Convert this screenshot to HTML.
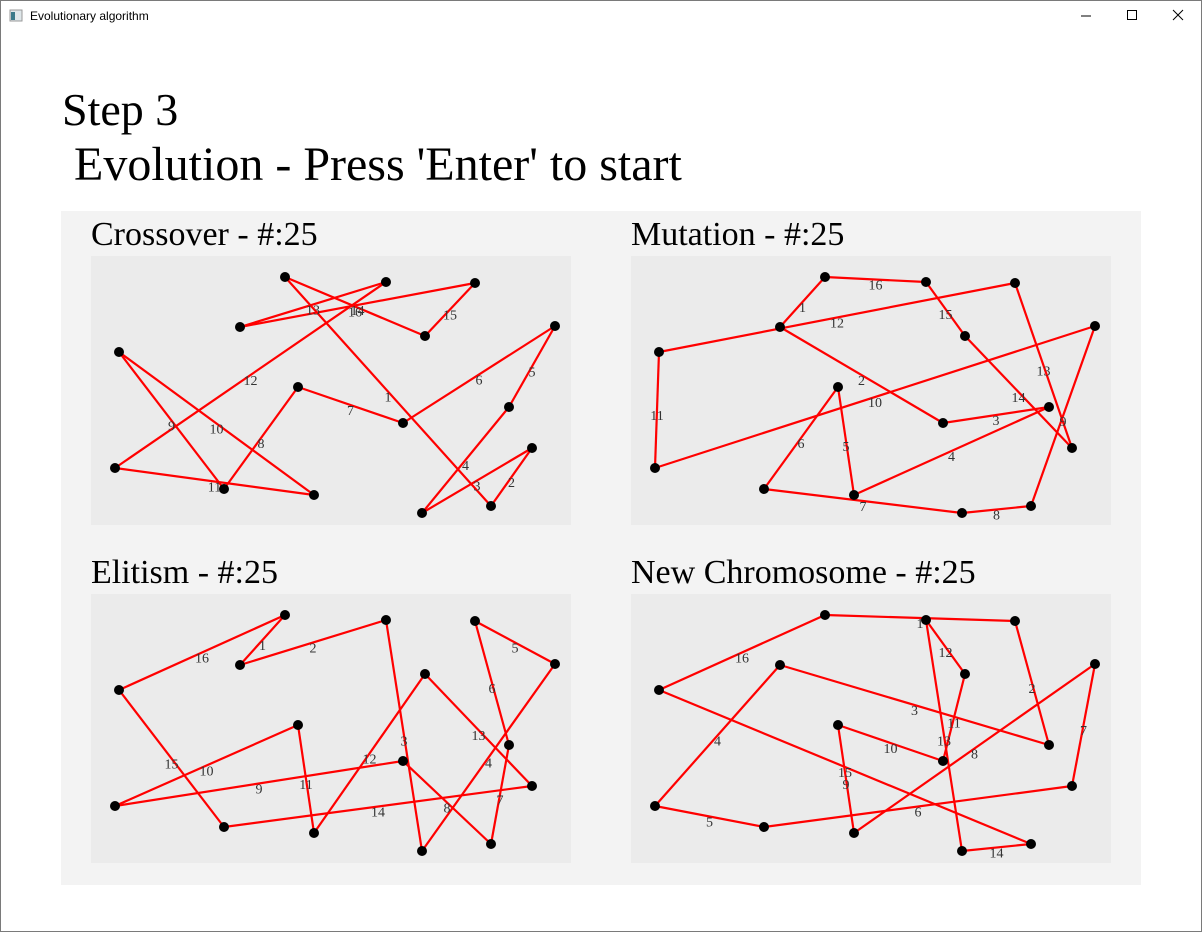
<!DOCTYPE html>
<html><head><meta charset="utf-8"><style>
html,body{margin:0;padding:0;width:1202px;height:932px;overflow:hidden;background:#fff;font-family:"Liberation Serif",serif}
#win{position:absolute;left:0;top:0;width:1200px;height:930px;border:1px solid #7a7a7a;background:#fff}
</style></head><body>
<div id="win"></div>
<svg id="svg" width="1202" height="932" style="position:absolute;left:0;top:0">
 <g>
  <rect x="10" y="10" width="12" height="11" fill="#dfe7ea" stroke="#999" stroke-width="1"/>
  <rect x="11" y="12" width="4" height="8" fill="#3b7a8a"/>
  <text x="30" y="20" font-family="Liberation Sans,sans-serif" font-size="12" fill="#000">Evolutionary algorithm</text>
  <line x1="1081" y1="16" x2="1091" y2="16" stroke="#000"/>
  <rect x="1127.5" y="10.5" width="9" height="9" fill="none" stroke="#000"/>
  <path d="M1173 10 L1183 20 M1183 10 L1173 20" stroke="#000"/>
 </g>
 <text x="62" y="125" font-size="46" fill="#000">Step 3</text>
 <text x="62" y="180" font-size="48" fill="#000" xml:space="preserve"> Evolution - Press 'Enter' to start</text>
 <rect x="61" y="211" width="1080" height="674" fill="#f3f3f3"/>
 <g id="panels"></g>
</svg>
<script>
const cityX = [194,295,384,149,334,464,28,207,418,312,24,133,223,441,331,400];
const cityY = [21,26,27,71,80,70,96,131,151,167,212,233,239,192,257,250];
const crossoverTour = [0,15,13,14,8,5,9,7,11,6,12,10,1,3,2,4];
const mutationTour = [0,3,9,8,12,7,11,14,15,5,10,6,2,13,4,1];
const elitismTour = [0,3,1,14,5,2,8,15,9,10,7,12,4,13,11,6];
const newChromosomeTour = [0,2,8,3,10,11,13,5,12,7,9,4,1,14,15,6];
const panelTitles = ["Crossover - #:25","Mutation - #:25","Elitism - #:25","New Chromosome - #:25"];
const panelNames = ["crossover","mutation","elitism","new-chromosome"];
const tours = [crossoverTour, mutationTour, elitismTour, newChromosomeTour];
const NS="http://www.w3.org/2000/svg";
const root=document.getElementById('panels');
function mk(tag,attrs,parent){const e=document.createElementNS(NS,tag);for(const k in attrs)e.setAttribute(k,attrs[k]);parent.appendChild(e);return e;}
const origins=[[91,256],[631,256],[91,594],[631,594]];
tours.forEach((tour,p)=>{
  const ox=origins[p][0], oy=origins[p][1];
  const sx=i=>ox+cityX[i], sy=i=>oy+cityY[i];
  const g=mk('g',{},root);
  
  
  const t=mk('text',{x:ox,y:oy-11,'font-size':34,fill:'#000'},g);
  t.textContent=panelTitles[p];
  
  
  const bg=mk('rect',{x:ox,y:oy,width:480,height:269,fill:'#ebebeb'},g);
  
  
  for(let k=0;k<tour.length;k++){
    const a=tour[k], b=tour[(k+1)%tour.length];
    const l=mk('line',{x1:sx(a),y1:sy(a),x2:sx(b),y2:sy(b),stroke:'#ff0000','stroke-width':2.2},g);
    
    
  }
  for(let k=0;k<tour.length;k++){
    const a=tour[k], b=tour[(k+1)%tour.length];
    const lb=mk('text',{x:(sx(a)+sx(b))/2,y:(sy(a)+sy(b))/2+10,'font-size':14,fill:'#333','text-anchor':'middle'},g);
    lb.textContent=String(k+1);
    
    
  }
  for(let i=0;i<cityX.length;i++){
    const c=mk('circle',{cx:sx(i),cy:sy(i),r:5,fill:'#000'},g);
    
    
  }
});
</script>
</body></html>
